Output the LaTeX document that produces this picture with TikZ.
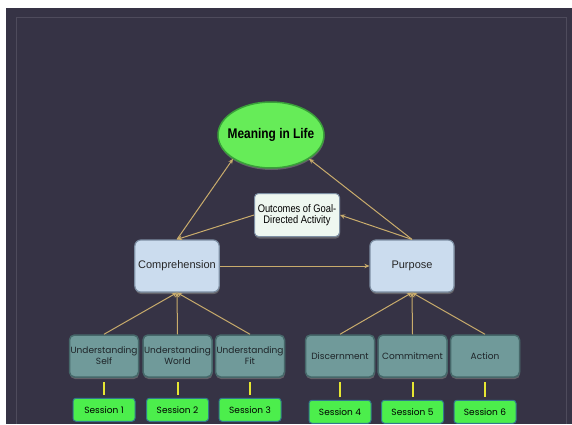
\documentclass[tikz,border=0pt]{standalone}
\usepackage{fontspec}
\setmainfont{Liberation Sans}
\newfontfamily\gothic{Poppins}
\newfontfamily\narrowsans[FakeStretch=0.85]{Liberation Sans}
\usetikzlibrary{shapes, arrows.meta, positioning, shadows}

\definecolor{panel}{RGB}{54,51,69}
\definecolor{panelline}{RGB}{78,75,92}
\definecolor{goalgreen}{RGB}{102,236,88}
\definecolor{goalline}{RGB}{58,160,58}
\definecolor{corefill}{RGB}{203,220,238}
\definecolor{coreline}{RGB}{125,143,163}
\definecolor{outfill}{RGB}{238,247,240}
\definecolor{skillfill}{RGB}{112,154,154}
\definecolor{skillline}{RGB}{70,104,106}
\definecolor{skilltext}{RGB}{30,36,40}
\definecolor{sessgreen}{RGB}{76,238,76}
\definecolor{sessline}{RGB}{50,120,140}
\definecolor{tan}{RGB}{201,172,108}
\definecolor{tieyellow}{RGB}{230,230,50}

\begin{document}
\begin{tikzpicture}[
        x=1pt, y=-1pt,
        node distance=20pt and 2pt,
        shade/.style={drop shadow={shadow xshift=0.5pt, shadow yshift=-2pt, opacity=0.6}},
        goal/.style={ellipse, draw=goalline, line width=1.5pt, fill=goalgreen, shade, minimum width=106pt, minimum height=66pt, inner xsep=-6pt, inner ysep=0pt, font=\narrowsans\bfseries\fontsize{14}{16}\selectfont},
        core/.style={rectangle, draw=coreline, line width=1.2pt, rounded corners=6pt, fill=corefill, shade, minimum width=84pt, minimum height=52pt, text=black!85, font=\fontsize{11}{13}\selectfont},
        outcome/.style={rectangle, draw=coreline, line width=1pt, rounded corners=4pt, fill=outfill, shade, minimum width=85pt, minimum height=43pt, inner sep=0pt, align=center, font=\narrowsans\fontsize{11}{11.5}\selectfont},
        skill/.style={rectangle, draw=skillline, line width=1.5pt, rounded corners=5pt, fill=skillfill, shade, minimum width=69pt, minimum height=42pt, inner sep=0pt, align=center, text=skilltext, font=\gothic\fontsize{9}{11}\selectfont},
        session/.style={rectangle, draw=sessline, line width=1pt, rounded corners=3pt, fill=sessgreen, minimum width=62pt, minimum height=23pt, inner sep=0pt, font=\gothic\fontsize{9}{10}\selectfont},
        arrow/.style={-{Stealth[length=5pt, width=4.5pt]}, draw=tan, line width=1pt},
        tie/.style={draw=tieyellow, line width=2pt, shorten <=3pt, shorten >=4pt}
    ]
        % background panel
        \useasboundingbox (0,0) rectangle (572,424);
        \fill[white] (0,0) rectangle (572,424);
        \fill[panel] (6,8) rectangle (572,424);
        \draw[panelline, line width=0.8pt] (16,17) -- (566,17) -- (566,424);
        \draw[panelline, line width=0.8pt] (16,17) -- (16,424);

        \node[goal] (meaning) at (271,135) {Meaning in Life};
        \node[outcome] (outcomes) at (297,215) {Outcomes of Goal-\\Directed Activity};
        \node[core] (comp) at (177,266) {Comprehension};
        \node[core] (purp) at (412,266) {Purpose};

        \node[skill] (uself) at (104,356) {Understanding\\Self};
        \node[skill, right=3pt of uself] (uworld) {Understanding\\World};
        \node[skill, right=of uworld] (ufit) {Understanding\\Fit};
        \node[skill] (disc) at (340,356) {Discernment};
        \node[skill, right=of disc] (commit) {Commitment};
        \node[skill, right=of commit] (action) {Action};

        \node[session, below=of uself] (s1) {Session 1};
        \node[session, below=of uworld] (s2) {Session 2};
        \node[session, below=of ufit] (s3) {Session 3};
        \node[session, below=22pt of disc] (s4) {Session 4};
        \node[session, below=22pt of commit] (s5) {Session 5};
        \node[session, below=22pt of action] (s6) {Session 6};

        \draw[arrow] (comp.north) -- (meaning.south west);
        \draw[arrow] (purp.north) -- (meaning.south east);
        \draw[arrow] (comp.east) -- (purp.west);
        \draw[arrow] (purp.north) -- (outcomes.east);
        \draw[arrow] (outcomes.west) -- (comp.north);
        \foreach \n in {uself, uworld, ufit}
            \draw[arrow] (\n.north) -- (comp.south);
        \foreach \n in {disc, commit, action}
            \draw[arrow] (\n.north) -- (purp.south);
        \foreach \s/\n in {s1/uself, s2/uworld, s3/ufit, s4/disc, s5/commit, s6/action}
            \draw[tie] (\s.north) -- (\n.south);
    \end{tikzpicture}
\end{document}
